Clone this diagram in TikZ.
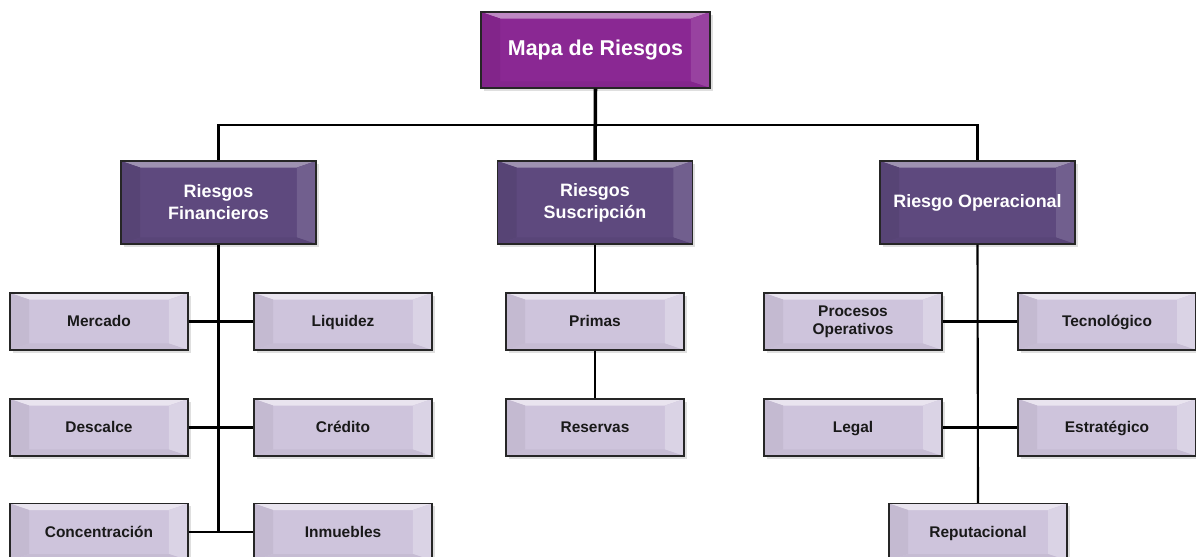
\documentclass[tikz,border=0pt]{standalone}
\usepackage{fontspec}
\setmainfont{Liberation Sans}
\usetikzlibrary{calc,shadows}

\def\bvx{0.38cm}
\def\bvy{0.13cm}
\tikzset{
  bevel/.style n args={4}{path picture={
    % top, left, right, bottom faces
    \fill[#1] (path picture bounding box.north west) -- (path picture bounding box.north east)
      -- ($(path picture bounding box.north east)+(-\bvx,-\bvy)$) -- ($(path picture bounding box.north west)+(\bvx,-\bvy)$) -- cycle;
    \fill[#2] (path picture bounding box.north west) -- (path picture bounding box.south west)
      -- ($(path picture bounding box.south west)+(\bvx,\bvy)$) -- ($(path picture bounding box.north west)+(\bvx,-\bvy)$) -- cycle;
    \fill[#3] (path picture bounding box.north east) -- (path picture bounding box.south east)
      -- ($(path picture bounding box.south east)+(-\bvx,\bvy)$) -- ($(path picture bounding box.north east)+(-\bvx,-\bvy)$) -- cycle;
    \fill[#4] (path picture bounding box.south west) -- (path picture bounding box.south east)
      -- ($(path picture bounding box.south east)+(-\bvx,\bvy)$) -- ($(path picture bounding box.south west)+(\bvx,\bvy)$) -- cycle;
  }},
  box/.style={draw=black!85, line width=0.8pt, align=center, font=\bfseries,
    drop shadow={opacity=0.25, shadow xshift=1.5pt, shadow yshift=-1.5pt}},
  rootbox/.style={box, fill=rootface, minimum width=4.58cm, minimum height=1.52cm,
    text=white, font=\bfseries\fontsize{12.2}{14}\selectfont,
    bevel={rootface!55!white}{rootface!94!black}{rootface!88!white}{rootface!95!black}},
  areabox/.style={box, fill=areaface, minimum width=3.9cm, minimum height=1.66cm,
    text=white, font=\bfseries\fontsize{10.2}{12.5}\selectfont,
    bevel={areaface!60!white}{areaface!93!black}{areaface!88!white}{areaface!95!black}},
  itembox/.style={box, fill=itemface, minimum width=3.56cm, minimum height=1.14cm,
    text=black!90, font=\bfseries\fontsize{8.8}{10.2}\selectfont,
    bevel={itemface!45!white}{itemface!95!black}{itemface!75!white}{itemface!96!black}},
  oneline/.style={text height=1.6ex, text depth=0.45ex},
  link/.style={line width=1.2pt},
  trunk/.style={line width=2pt}
}
\definecolor{rootface}{HTML}{8A2893}
\definecolor{areaface}{HTML}{5E497E}
\definecolor{itemface}{HTML}{CEC4DC}

\begin{document}
\begin{tikzpicture}[x=0.02cm, y=-0.02cm]
    \useasboundingbox (0,0) rectangle (1196,557);
    % top level
    \node[rootbox, oneline] (map) at (595.5,50) {Mapa de Riesgos};
    % areas
    \node[areabox] (fin) at (218.5,202.5) {Riesgos\\Financieros};
    \node[areabox] (sus) at (595,202.5) {Riesgos\\Suscripción};
    \node[areabox, oneline] (ope) at (977.5,202.5) {Riesgo Operacional};
    % financial risks
    \node[itembox, oneline] (mer) at (99,321.5) {Mercado};
    \node[itembox, oneline] (liq) at (343,321.5) {Liquidez};
    \node[itembox, oneline] (des) at (99,427.5) {Descalce};
    \node[itembox, oneline] (cre) at (343,427.5) {Crédito};
    \node[itembox, oneline] (con) at (99,532) {Concentración};
    \node[itembox, oneline] (inm) at (343,532) {Inmuebles};
    % underwriting risks
    \node[itembox, oneline] (pri) at (595,321.5) {Primas};
    \node[itembox, oneline] (res) at (595,427.5) {Reservas};
    % operational risks
    \node[itembox] (pro) at (853,321.5) {Procesos\\Operativos};
    \node[itembox, oneline] (tec) at (1107,321.5) {Tecnológico};
    \node[itembox, oneline] (leg) at (853,427.5) {Legal};
    \node[itembox, oneline] (est) at (1107,427.5) {Estratégico};
    \node[itembox, oneline] (rep) at (978,532) {Reputacional};
    % connectors
    \coordinate (hub) at (595,125);
    \coordinate (finend) at (fin.south |- con.east);
    \draw[trunk] (map.south) -- (sus.north);
    \draw[link] (fin.north) |- (hub) -| (ope.north);
    \draw[link] (fin.south) -- (finend);
    \draw[link] (mer.east) -- (liq.west);
    \draw[link] (des.east) -- (cre.west);
    \draw[link] (con.east) -- (inm.west);
    \draw[link] (sus.south) -- (pri.north);
    \draw[link] (pri.south) -- (res.north);
    \draw[link] (ope.south) -- (rep.north);
    \draw[link] (pro.east) -- (tec.west);
    \draw[link] (leg.east) -- (est.west);
\end{tikzpicture}
\end{document}
